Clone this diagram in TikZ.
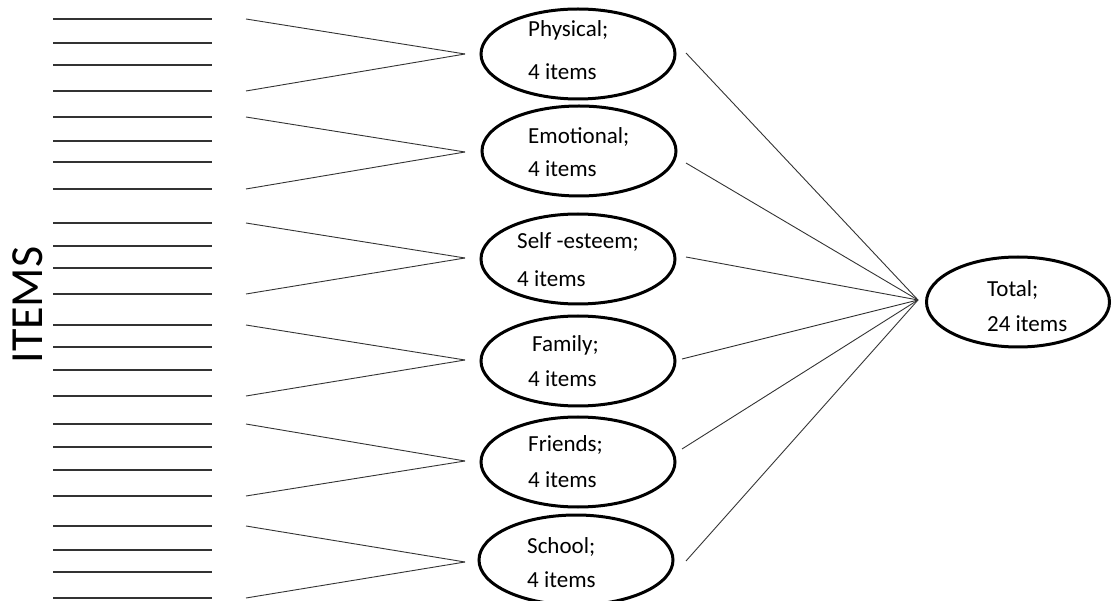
\documentclass[tikz,border=0pt]{standalone}
\usepackage{fontspec}
\setmainfont{Carlito}
\usetikzlibrary{shapes.geometric}
\begin{document}
\begin{tikzpicture}[x=1pt,y=-1pt,
  itemline/.style={line width=1.5pt,draw=black!80},
  link/.style={line width=0.9pt,draw=black!80},
  factor/.style={draw,ellipse,line width=3pt,minimum width=194pt,minimum height=90pt,inner sep=0pt,outer sep=0pt},
  lbl/.style={anchor=base west,inner sep=0pt,font=\fontsize{23}{27}\selectfont}]
\useasboundingbox (0,0) rectangle (1114,601);
% vertical label
\node[rotate=90,font=\fontsize{46}{50}\selectfont,inner sep=0pt] (items) at (28,305) {ITEMS};
% item lines
\foreach \y [count=\i] in {19,43,65,91,117,141,162,189,223,246,268,294,325,347,370,396,424,447,470,496,526,550,572,598}{
  \coordinate (il\i) at (53,\y);
  \coordinate (ir\i) at (212,\y);
  \draw[itemline] (il\i) -- (ir\i);
}
% group connectors
\foreach \ya/\yb/\yc [count=\k] in {19/91/54,117/189/152,223/294/258,325/396/360,424/496/461,526/598/562}{
  \coordinate (sa\k) at (246,\ya);
  \coordinate (sb\k) at (246,\yb);
  \coordinate (m\k) at (465,\yc);
  \draw[link] (sa\k) -- (m\k);
  \draw[link] (sb\k) -- (m\k);
}
% factor ellipses
\node[factor] (phys) at (578,54) {};
\node[factor] (emo) at (579,151) {};
\node[factor] (self) at (578,259) {};
\node[factor] (fam) at (578,361) {};
\node[factor] (fri) at (578,462) {};
\node[factor] (sch) at (576,560) {};
\node[factor,minimum width=183pt,minimum height=90pt] (tot) at (1018,302) {};
% labels
\node[lbl] (physa) at (528,37) {Physical;};
\node[lbl] (physb) at (528,80) {4 items};
\node[lbl] (emoa) at (528,144) {Emotional;};
\node[lbl] (emob) at (528,177) {4 items};
\node[lbl] (selfa) at (517,249) {Self -esteem;};
\node[lbl] (selfb) at (517,287) {4 items};
\node[lbl] (fama) at (532,352) {Family;};
\node[lbl] (famb) at (528,387) {4 items};
\node[lbl] (fria) at (528,452) {Friends;};
\node[lbl] (frib) at (528,487) {4 items};
\node[lbl] (scha) at (527,553) {School;};
\node[lbl] (schb) at (527,587) {4 items};
\node[lbl] (tota) at (987,297) {Total;};
\node[lbl] (totb) at (987,332) {24 items};
% connectors to total
\coordinate (hub) at (918,300);
\coordinate (r1) at (686,53);
\coordinate (r2) at (686,163);
\coordinate (r3) at (686,257);
\coordinate (r4) at (682,359);
\coordinate (r5) at (682,449);
\coordinate (r6) at (686,561);
\foreach \k in {1,...,6}{\draw[link] (r\k) -- (hub);}
\end{tikzpicture}
\end{document}
